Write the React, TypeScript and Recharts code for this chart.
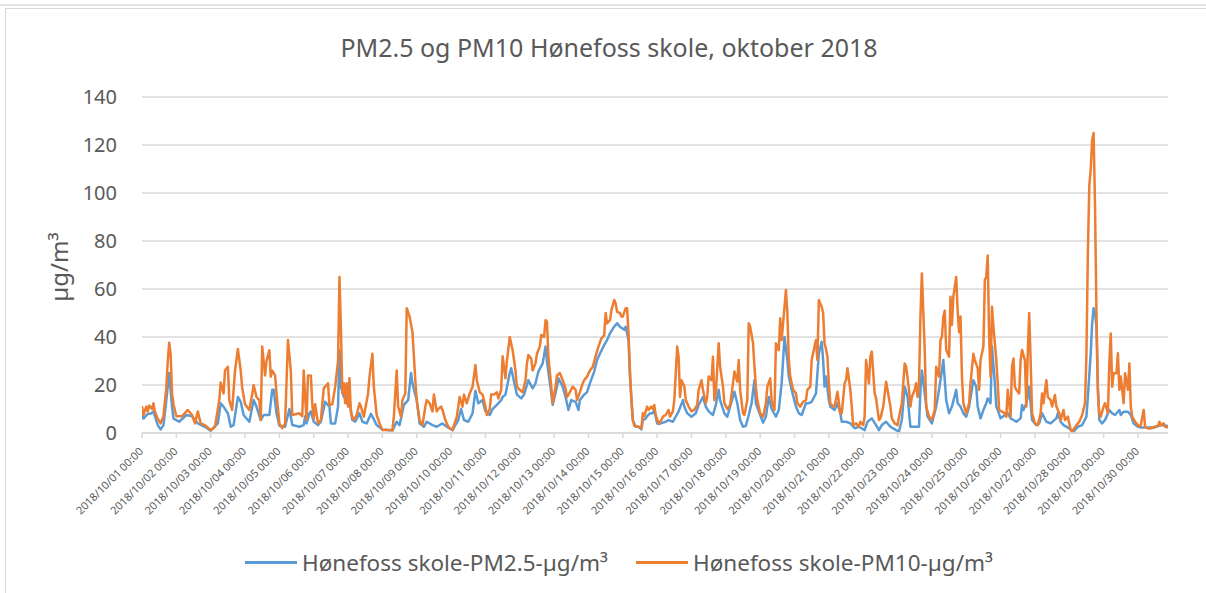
import { CartesianGrid, Line, LineChart, XAxis, YAxis } from "recharts";

// Timeoppløste målinger fra Hønefoss skole, oktober 2018.
// Hver rad: [timer siden 2018/10/01 00:00, µg/m³].
const TITLE = "PM2.5 og PM10 Hønefoss skole, oktober 2018";
const Y_LABEL = "µg/m³";
const PM25_NAME = "Hønefoss skole-PM2.5-µg/m³";
const PM10_NAME = "Hønefoss skole-PM10-µg/m³";

const DAYS = [
  "01", "02", "03", "04", "05", "06", "07", "08", "09", "10",
  "11", "12", "13", "14", "15", "16", "17", "18", "19", "20",
  "21", "22", "23", "24", "25", "26", "27", "28", "29", "30",
];
const Y_TICKS = [0, 20, 40, 60, 80, 100, 120, 140];
const LAST_HOUR = 717;

const PM25: [number, number][] = [
  [0, 8.5], [1, 6], [4, 8], [6, 8], [8, 9], [11, 3.3], [13, 1.5], [15, 3.3], [17, 13.7], [19, 25],
  [21, 11], [22, 6], [26, 4.7], [31, 7.5], [35, 7], [39, 4], [44, 2.6], [48, 1], [53, 4], [55, 12.4],
  [57, 11], [60, 8.2], [62, 2.6], [64, 3.3], [67, 15], [69, 13], [71, 7.5], [75, 4.7], [78, 13.7], [80, 11],
  [83, 5.4], [85, 7.5], [89, 7.5], [91, 18], [92, 18], [94, 8.2], [96, 3], [100, 2.6], [103, 10], [105, 3.3],
  [110, 2.6], [113, 3.3], [114, 7], [115, 4], [117, 8.2], [118, 9], [120, 4.7], [123, 3.3], [125, 4.7], [128, 13],
  [131, 11], [132, 4], [135, 4], [137, 11], [138, 34.5], [139, 19.3], [141, 15], [142, 16.5], [143, 12.4], [145, 13.7],
  [147, 5.4], [149, 4.7], [152, 8.2], [154, 4.7], [157, 4], [160, 8], [162, 5.7], [164, 3.3], [168, 1.5], [175, 1],
  [178, 4.7], [180, 3.3], [183, 11.7], [186, 13.7], [188, 25], [189, 20.7], [192, 13.7], [194, 4], [197, 2.6], [199, 4.7],
  [203, 3.3], [206, 2.6], [210, 4], [213, 2.6], [217, 1.2], [221, 5.4], [223, 10], [225, 5.4], [228, 4.7], [231, 8.2],
  [233, 17.6], [235, 12.4], [238, 13.7], [240, 9], [243, 7.5], [245, 10], [248, 11.7], [251, 13.7], [252, 15], [254, 16],
  [257, 25], [258, 27], [260, 21.4], [262, 16], [265, 14.4], [267, 16], [270, 22], [273, 18.6], [275, 20.7], [277, 25.6],
  [280, 29], [282, 36], [283, 30], [286, 16.5], [287, 11.7], [290, 19.3], [291, 22.8], [294, 19.3], [296, 15], [298, 9.6],
  [300, 13.7], [303, 13], [305, 9.6], [306, 13.7], [309, 16], [311, 17], [313, 20.7], [316, 25.6], [318, 30.4], [320, 33],
  [323, 36.7], [325, 38.7], [327, 41.5], [330, 44.3], [332, 45.7], [334, 44.3], [337, 43], [338, 44.3], [340, 38.7], [341, 23.5],
  [343, 5.4], [345, 2.6], [347, 2.6], [349, 1.5], [350, 5.4], [352, 6], [353, 7], [355, 8.2], [357, 8.2], [358, 9.6],
  [360, 4], [361, 3.7], [364, 4.3], [366, 4.7], [368, 5.4], [371, 4.7], [373, 6.8], [375, 9], [378, 13.7], [379, 11],
  [381, 8.2], [384, 6.8], [387, 8.2], [389, 11.7], [392, 15], [394, 11], [396, 9], [399, 7.5], [401, 11.7], [403, 18],
  [404, 13.7], [407, 8.2], [409, 6.8], [411, 11], [414, 17.2], [416, 12.4], [418, 5.4], [420, 2.6], [422, 3], [424, 7.5],
  [426, 12.4], [428, 22], [429, 12.4], [432, 7.5], [434, 4.3], [436, 6.8], [438, 15], [440, 10], [443, 6.8], [445, 9.6],
  [447, 20.7], [449, 40], [451, 30.4], [452, 23.5], [454, 18], [457, 11], [459, 8.2], [461, 7.5], [464, 12.4], [466, 12.4],
  [468, 13], [471, 16.5], [473, 33], [475, 38], [476, 30.4], [477, 19.3], [478, 23.5], [480, 13.7], [481, 11], [484, 9.6],
  [486, 12.4], [488, 8.2], [489, 4.7], [492, 4.7], [495, 4], [498, 2], [501, 2.6], [505, 1.2], [507, 4.7], [510, 6.1],
  [513, 3.3], [515, 1.2], [517, 3.3], [520, 4.7], [523, 2.6], [527, 1.2], [529, 0.6], [531, 5.4], [533, 19.3], [535, 15],
  [537, 2.6], [541, 2.6], [543, 2.6], [544, 18], [545, 26], [547, 16.5], [549, 6.8], [552, 4], [555, 11], [557, 18],
  [559, 26], [560, 30.4], [562, 13.7], [564, 8.2], [566, 11], [569, 18], [570, 12.4], [572, 11], [574, 8.2], [576, 6.8],
  [578, 11], [581, 22], [583, 19.3], [584, 11], [586, 6.1], [588, 9.6], [590, 12.4], [591, 14.4], [593, 12.4], [594, 36],
  [596, 20.7], [597, 11], [598, 9.6], [600, 6.1], [603, 7.5], [605, 8.2], [607, 6.1], [609, 5.4], [611, 4.7], [614, 6.1],
  [615, 11.7], [616, 9.6], [618, 12.4], [619, 15], [620, 19.3], [622, 5.4], [625, 3.3], [627, 4], [629, 8.2], [632, 4.7],
  [635, 4], [639, 6.1], [640, 8.2], [642, 4.7], [644, 3.3], [648, 1.9], [651, 0.6], [654, 2.6], [657, 3.3], [660, 6.8],
  [661, 15], [663, 33.2], [664, 45.7], [665, 52], [666, 50], [667, 44.3], [668, 19.3], [669, 5.4], [671, 4], [673, 5.4],
  [676, 9.6], [678, 8.2], [680, 7.5], [683, 9.6], [684, 7.5], [686, 8.9], [689, 8.9], [691, 7.5], [693, 4], [696, 2.6],
  [698, 2.3], [703, 2.3], [707, 2.3], [712, 3.3], [717, 2.9],
];

const PM10: [number, number][] = [
  [0, 11.2], [1, 7.5], [3, 11], [4, 9], [5, 11.4], [7, 10], [8, 12.4], [9, 9], [11, 6], [13, 4],
  [15, 7], [17, 19], [18, 30], [19, 37.6], [20, 33], [21, 16.5], [22, 12], [24, 7], [28, 7], [32, 9.6],
  [35, 7.5], [37, 4], [39, 9], [41, 4], [44, 3.3], [48, 1.2], [51, 2.6], [54, 13.7], [55, 21], [57, 16.5],
  [58, 26], [60, 27.6], [61, 13.7], [63, 9.6], [65, 26], [67, 35], [69, 26], [70, 19], [72, 12], [75, 9.6],
  [77, 16], [78, 20], [80, 15], [82, 13.7], [83, 5.4], [84, 36], [86, 24], [87, 30], [89, 34.5], [90, 23.5],
  [91, 26], [93, 24], [94, 16.5], [96, 4], [98, 2], [100, 4], [102, 38.7], [104, 26], [105, 7.5], [110, 8.2],
  [112, 7], [113, 26], [114, 15], [115, 5.4], [116, 24], [118, 24], [119, 12], [120, 6], [121, 12], [123, 4],
  [125, 5.4], [127, 18.6], [128, 19.3], [130, 20.7], [131, 11.7], [133, 12], [135, 19.3], [137, 30], [138, 65], [139, 44],
  [140, 16.5], [141, 20.7], [142, 12.4], [143, 20.7], [144, 11], [145, 22.8], [146, 8.2], [148, 5.4], [150, 7.5], [152, 12.4],
  [153, 11], [155, 6.8], [156, 10], [158, 16.5], [159, 23.5], [161, 33], [162, 19.3], [164, 7.5], [166, 4], [168, 1.2],
  [171, 1.2], [175, 1.2], [176, 6.8], [178, 26], [179, 11], [181, 6.8], [182, 13.7], [184, 16.5], [185, 52], [187, 48.5],
  [189, 42], [191, 22], [192, 13.7], [194, 5.4], [196, 3.3], [198, 11], [199, 13.7], [201, 12.4], [203, 9], [204, 16],
  [206, 9], [207, 10], [209, 11], [210, 9.6], [212, 5.4], [214, 2.6], [217, 1.2], [218, 3.3], [220, 6.8], [222, 15],
  [224, 11], [225, 16], [227, 12.4], [229, 16.5], [231, 19.3], [233, 28.3], [234, 22], [236, 17], [238, 16], [240, 11],
  [241, 7.5], [243, 10], [244, 16], [246, 16], [248, 17], [249, 14.4], [251, 18], [252, 32], [254, 22.8], [255, 30],
  [257, 40], [259, 34.5], [261, 26], [262, 19.3], [264, 18], [266, 17], [268, 22], [269, 29], [270, 32.5], [272, 31],
  [273, 26], [275, 29], [276, 33], [278, 36], [279, 40.8], [281, 40], [282, 47], [283, 46.4], [284, 31.8], [286, 19.3],
  [287, 12.4], [289, 19.3], [290, 24], [292, 25], [294, 22], [296, 18.6], [297, 15], [299, 17], [301, 19.3], [303, 18],
  [304, 13.7], [306, 17], [308, 20.7], [309, 22], [311, 23.5], [313, 26], [315, 27.6], [317, 32], [319, 36], [321, 39.4],
  [323, 40.8], [324, 50], [325, 45.7], [327, 47], [328, 51], [330, 55.4], [331, 54], [332, 50.5], [334, 50], [335, 48.5],
  [336, 48.5], [338, 52], [339, 52], [340, 41.5], [341, 26], [342, 13.7], [343, 5.4], [344, 3], [347, 2.6], [349, 2],
  [350, 8.2], [351, 7], [353, 11], [354, 9.6], [356, 11], [357, 10], [358, 11.7], [359, 7.5], [361, 4], [363, 5.4],
  [364, 6.8], [366, 7.5], [368, 9.6], [369, 6.8], [371, 9], [372, 13.7], [374, 36], [375, 31.8], [376, 15], [377, 22],
  [379, 19.3], [380, 13.7], [382, 11], [384, 9], [386, 9.6], [388, 11.7], [389, 18], [391, 22], [392, 18], [394, 12.4],
  [395, 15], [396, 23.5], [398, 22], [399, 31.8], [400, 13.7], [401, 16.5], [403, 37.4], [404, 27.6], [406, 19.3], [407, 12.4],
  [409, 10], [411, 11.7], [413, 20.7], [414, 25.6], [416, 21.4], [417, 30.4], [418, 18], [420, 8.2], [421, 7.5], [423, 13.7],
  [424, 45.7], [425, 44.3], [427, 37.4], [428, 27.6], [429, 19.3], [430, 13.7], [432, 8.2], [434, 6.8], [436, 12.4], [437, 19.3],
  [439, 22.8], [440, 13.7], [442, 9.6], [443, 37.4], [445, 34.5], [446, 47.8], [447, 38.7], [449, 52.6], [450, 59.6], [451, 50],
  [452, 30.4], [453, 23.5], [455, 18], [457, 16.5], [458, 12.4], [460, 11], [462, 13], [464, 13.7], [465, 18], [467, 19.3],
  [468, 30.4], [470, 36], [471, 38.7], [472, 30.4], [473, 55.4], [475, 52.6], [476, 50], [477, 37.4], [478, 35], [479, 31.8],
  [480, 20.7], [481, 12.4], [483, 11], [484, 11], [486, 17.2], [488, 8.2], [489, 8.2], [491, 20.7], [492, 22], [493, 27],
  [495, 18], [496, 11], [497, 3.3], [499, 4], [501, 2.6], [502, 4.7], [504, 3.3], [505, 6.8], [506, 30.4], [508, 20.7],
  [509, 31.8], [510, 33.9], [512, 16.5], [513, 14.4], [515, 5.4], [516, 6.1], [518, 11], [520, 21.4], [521, 18], [523, 11],
  [524, 6.1], [526, 4], [528, 3.3], [530, 9.6], [531, 12.4], [533, 29], [534, 27.6], [536, 18], [537, 11], [538, 15],
  [540, 18], [541, 20.7], [542, 15], [543, 20.7], [544, 48.5], [545, 66.5], [547, 34.6], [548, 11], [550, 6.8], [552, 5.4],
  [554, 9.6], [555, 27.6], [557, 23.5], [558, 38.7], [559, 40], [560, 48.5], [561, 51], [562, 34.6], [564, 31.8], [565, 56.8],
  [566, 45], [567, 56.8], [569, 65], [570, 51], [571, 42], [572, 48.5], [573, 23.5], [574, 12.4], [576, 8.2], [578, 12.4],
  [579, 20.7], [581, 33], [582, 30.4], [584, 27], [585, 18], [586, 30.4], [588, 36], [589, 63.8], [590, 65], [591, 74],
  [592, 40], [593, 23.5], [594, 52.6], [595, 44.3], [597, 30.4], [598, 20.7], [599, 9.6], [601, 8.9], [603, 8.2], [604, 6.8],
  [605, 18], [607, 6.8], [608, 27.6], [609, 31], [610, 19.3], [611, 18], [613, 16.5], [614, 30.4], [615, 34.6], [617, 30.4],
  [618, 11], [619, 33.2], [620, 50], [621, 30.4], [622, 8.2], [624, 4], [626, 3.3], [628, 8.2], [629, 16.5], [630, 12.4],
  [632, 22], [633, 15], [635, 13.7], [636, 11], [638, 15.8], [639, 11], [641, 8.2], [642, 5.4], [644, 9.6], [645, 5.4],
  [647, 6.8], [649, 1.2], [650, 0.6], [653, 3.3], [655, 4.7], [657, 7.5], [659, 12.4], [660, 33], [661, 75], [662, 103],
  [663, 110], [664, 122], [665, 125], [666, 95], [667, 50], [668, 17], [669, 8.2], [670, 6.8], [672, 11], [673, 12.4],
  [675, 8.2], [676, 29], [677, 41.5], [678, 19.3], [679, 24.9], [681, 24.9], [682, 33.2], [683, 18], [684, 23.5], [686, 12.4],
  [687, 24.9], [689, 18], [690, 29], [691, 11], [692, 6.8], [694, 4.7], [695, 4], [697, 2.6], [698, 3.3], [700, 9.6],
  [701, 2.6], [703, 1.9], [705, 1.9], [708, 2.6], [710, 2.9], [711, 4.7], [712, 3.3], [714, 4], [715, 2.6], [717, 2.3],
];

const BLUE = "#5B9BD5";
const ORANGE = "#ED7D31";
const GRID = "#d9d9d9";
const TEXT = "#595959";
const FONT = "'Noto Sans', sans-serif";

const pm25Data = PM25.map(([h, v]) => ({ h, v }));
const pm10Data = PM10.map(([h, v]) => ({ h, v }));
const xTicks = DAYS.map((_, i) => i * 24);

function DateTick(props: any) {
  const { x, y, payload } = props;
  const day = DAYS[Math.round(payload.value / 24)];
  const ax = x + 2;
  const ay = y + 12;
  return (
    <text
      x={ax}
      y={ay}
      transform={`rotate(-45 ${ax} ${ay})`}
      textAnchor="end"
      fontSize={11}
      fontFamily={FONT}
      fill={TEXT}
      stroke="none"
    >
      {`2018/10/${day} 00:00`}
    </text>
  );
}

function LegendItem({ color, label, left }: { color: string; label: string; left: number }) {
  return (
    <div style={{ position: "absolute", left, top: 545, height: 34, display: "flex", alignItems: "center" }}>
      <div style={{ width: 52, height: 3, background: color, marginRight: 5 }} />
      <span style={{ fontSize: 22.5, color: TEXT, fontFamily: FONT, whiteSpace: "nowrap" }}>{label}</span>
    </div>
  );
}

export default function App() {
  return (
    <div style={{ position: "absolute", left: 0, top: 0, width: 1206, height: 593, background: "#fff", overflow: "hidden" }}>
      <div style={{ position: "absolute", left: 0, top: 4, width: 1206, height: 2, background: "#e3e3e3" }} />
      <div
        style={{
          position: "absolute",
          left: 5,
          top: 8,
          width: 1210,
          height: 600,
          border: `1px solid ${GRID}`,
          boxSizing: "border-box",
        }}
      />
      <div style={{ position: "absolute", left: 0, top: 0 }}>
        <LineChart width={1206} height={593} margin={{ top: 97, right: 38, bottom: 100, left: 82 }}>
          <CartesianGrid vertical={false} stroke={GRID} strokeWidth={1.5} />
          <XAxis
            type="number"
            dataKey="h"
            domain={[0, LAST_HOUR]}
            ticks={xTicks}
            interval={0}
            height={60}
            stroke={GRID}
            strokeWidth={1.5}
            tickSize={5}
            tickMargin={2}
            tick={<DateTick />}
            allowDataOverflow
          />
          <YAxis
            domain={[0, 140]}
            ticks={Y_TICKS}
            width={60}
            axisLine={false}
            tickLine={false}
            tickSize={0}
            tickMargin={25}
            tick={{ fontSize: 20, fill: TEXT, fontFamily: FONT }}
          />
          <Line
            data={pm25Data}
            dataKey="v"
            name={PM25_NAME}
            type="linear"
            stroke={BLUE}
            strokeWidth={2.5}
            strokeLinejoin="round"
            dot={false}
            activeDot={false}
            isAnimationActive={false}
          />
          <Line
            data={pm10Data}
            dataKey="v"
            name={PM10_NAME}
            type="linear"
            stroke={ORANGE}
            strokeWidth={2.5}
            strokeLinejoin="round"
            dot={false}
            activeDot={false}
            isAnimationActive={false}
          />
        </LineChart>
      </div>
      <svg width={1206} height={593} style={{ position: "absolute", left: 0, top: 0, pointerEvents: "none" }}>
        <text x={609} y={57} textAnchor="middle" fontSize={25} fontFamily={FONT} fill={TEXT}>
          {TITLE}
        </text>
        <text
          x={68}
          y={267}
          transform="rotate(-90 68 267)"
          textAnchor="middle"
          fontSize={24}
          fontFamily={FONT}
          fill={TEXT}
        >
          {Y_LABEL}
        </text>
      </svg>
      <LegendItem color={BLUE} label={PM25_NAME} left={245} />
      <LegendItem color={ORANGE} label={PM10_NAME} left={636} />
    </div>
  );
}
